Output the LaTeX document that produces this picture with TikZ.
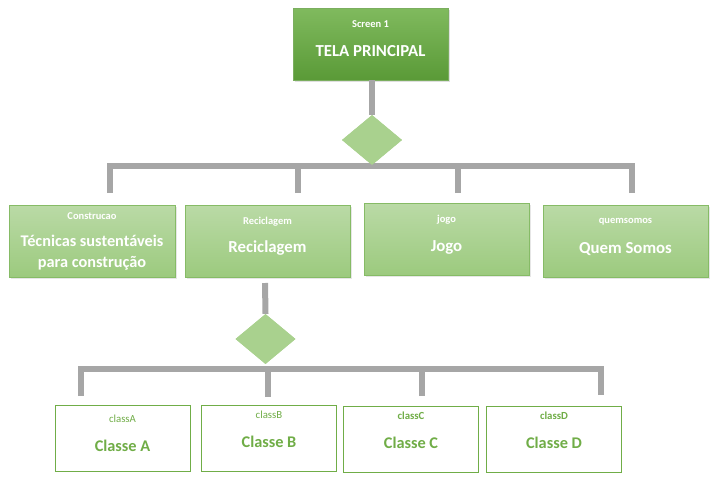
\documentclass[tikz,border=0pt]{standalone}
\usepackage{fontspec}
\setmainfont{Carlito}
\usetikzlibrary{shapes.geometric,shadows}
\definecolor{gline}{HTML}{A6A6A6}
\definecolor{dgreen}{HTML}{A9D18E}
\definecolor{tgreen}{HTML}{70AD47}
\definecolor{bgtop}{HTML}{BADAA6}
\definecolor{bgbot}{HTML}{9CCA7E}
\definecolor{bborder}{HTML}{86BB66}
\definecolor{toptop}{HTML}{80BA5E}
\definecolor{topbot}{HTML}{5A9A37}
\tikzset{
  conn/.style={draw=gline,line width=6pt},
  dia/.style={diamond,fill=dgreen,draw=none,minimum width=60pt,minimum height=50pt,inner sep=0pt},
  mainbox/.style={rectangle,top color=toptop,bottom color=topbot,draw=topbot!80,line width=0.5pt,minimum width=155pt,minimum height=72pt,inner sep=0pt,drop shadow={shadow xshift=1.5pt,shadow yshift=-2pt,opacity=0.25}},
  gbox/.style={rectangle,top color=bgtop,bottom color=bgbot,draw=bborder,line width=1pt,minimum width=165pt,minimum height=72pt,inner sep=0pt,drop shadow={shadow xshift=1.5pt,shadow yshift=-2pt,opacity=0.2}},
  wbox/.style={rectangle,fill=white,draw=tgreen,line width=1pt,minimum width=135pt,minimum height=66pt,inner sep=0pt},
  smallw/.style={text=white,font=\fontsize{10.5}{12}\selectfont\bfseries,inner sep=0pt},
  bigw/.style={text=white,font=\fontsize{16.8}{20}\selectfont\bfseries,inner sep=0pt,align=center},
  smallg/.style={text=tgreen,font=\fontsize{10.8}{12}\selectfont,inner sep=0pt},
  bigg/.style={text=tgreen,font=\fontsize{16.3}{18}\selectfont\bfseries,inner sep=0pt},
}
\begin{document}
\begin{tikzpicture}[x=1pt,y=-1pt]
\useasboundingbox (0,0) rectangle (722,490);
% top
\node[mainbox] (top) at (370.5,44) {};
\node[smallw] (topS) at (370.5,24) {Screen 1};
\node[bigw] (topM) at (370.5,51) {TELA PRINCIPAL};
% diamond 1
\node[dia] (d1) at (372,140) {};
\coordinate (bus1L) at (107,166);
\coordinate (bus1R) at (635,166);
\coordinate (t1) at (110,193);
\coordinate (t2) at (298,193);
\coordinate (t3) at (458,193);
\coordinate (t4) at (632,193);
\draw[conn] (top.south) ++(1.5,0) -- (d1.north);
\draw[conn] (bus1L) -- (bus1R);
\draw[conn] (t1) -- (t1 |- bus1L);
\draw[conn] (t2) -- (t2 |- bus1L);
\draw[conn] (t3) -- (t3 |- bus1L);
\draw[conn] (t4) -- (t4 |- bus1L);
\node[dia] at (d1) {};
% row 1
\node[gbox,minimum width=166pt] (b1) at (92,241) {};
\node[gbox] (b2) at (267.5,241) {};
\node[gbox] (b3) at (446.5,239) {};
\node[gbox] (b4) at (625.5,241) {};
\node[smallw] (b1s) at (92,216) {Construcao};
\node[bigw,font=\fontsize{16.3}{21}\selectfont\bfseries] (b1m) at (92,253) {Técnicas sustentáveis\\para construção};
\node[smallw] (b2s) at (267.5,222) {Reciclagem};
\node[bigw] (b2m) at (267.5,248) {Reciclagem};
\node[smallw] (b3s) at (446.5,220) {jogo};
\node[bigw] (b3m) at (446.5,247) {Jogo};
\node[smallw] (b4s) at (625.5,222) {quemsomos};
\node[bigw] (b4m) at (625.5,249) {Quem Somos};
% diamond 2
\node[dia] (d2) at (265.5,339) {};
\coordinate (bus2L) at (78,369);
\coordinate (bus2R) at (604,369);
\coordinate (u1) at (81,396);
\coordinate (u2) at (268,397);
\coordinate (u3) at (422,396);
\coordinate (u4) at (601,395);
\draw[conn] (265,283) -- (d2.north);
\draw[conn] (bus2L) -- (bus2R);
\draw[conn] (u1) -- (u1 |- bus2L);
\draw[conn] (u2) -- (u2 |- bus2L);
\draw[conn] (u3) -- (u3 |- bus2L);
\draw[conn] (u4) -- (u4 |- bus2L);
\node[dia] at (d2) {};
% row 2
\node[wbox] (c1) at (122.5,438) {};
\node[wbox] (c2) at (269,438) {};
\node[wbox] (c3) at (411,439) {};
\node[wbox] (c4) at (554,439) {};
\node[smallg] (c1s) at (122.5,419) {classA};
\node[bigg] (c1m) at (122.5,446) {Classe A};
\node[smallg] (c2s) at (269,415) {classB};
\node[bigg] (c2m) at (269,442) {Classe B};
\node[smallg,font=\fontsize{10.8}{12}\selectfont\bfseries] (c3s) at (411,416) {classC};
\node[bigg] (c3m) at (411,443) {Classe C};
\node[smallg,font=\fontsize{10.8}{12}\selectfont\bfseries] (c4s) at (554,416) {classD};
\node[bigg] (c4m) at (554,443) {Classe D};
\end{tikzpicture}
\end{document}
